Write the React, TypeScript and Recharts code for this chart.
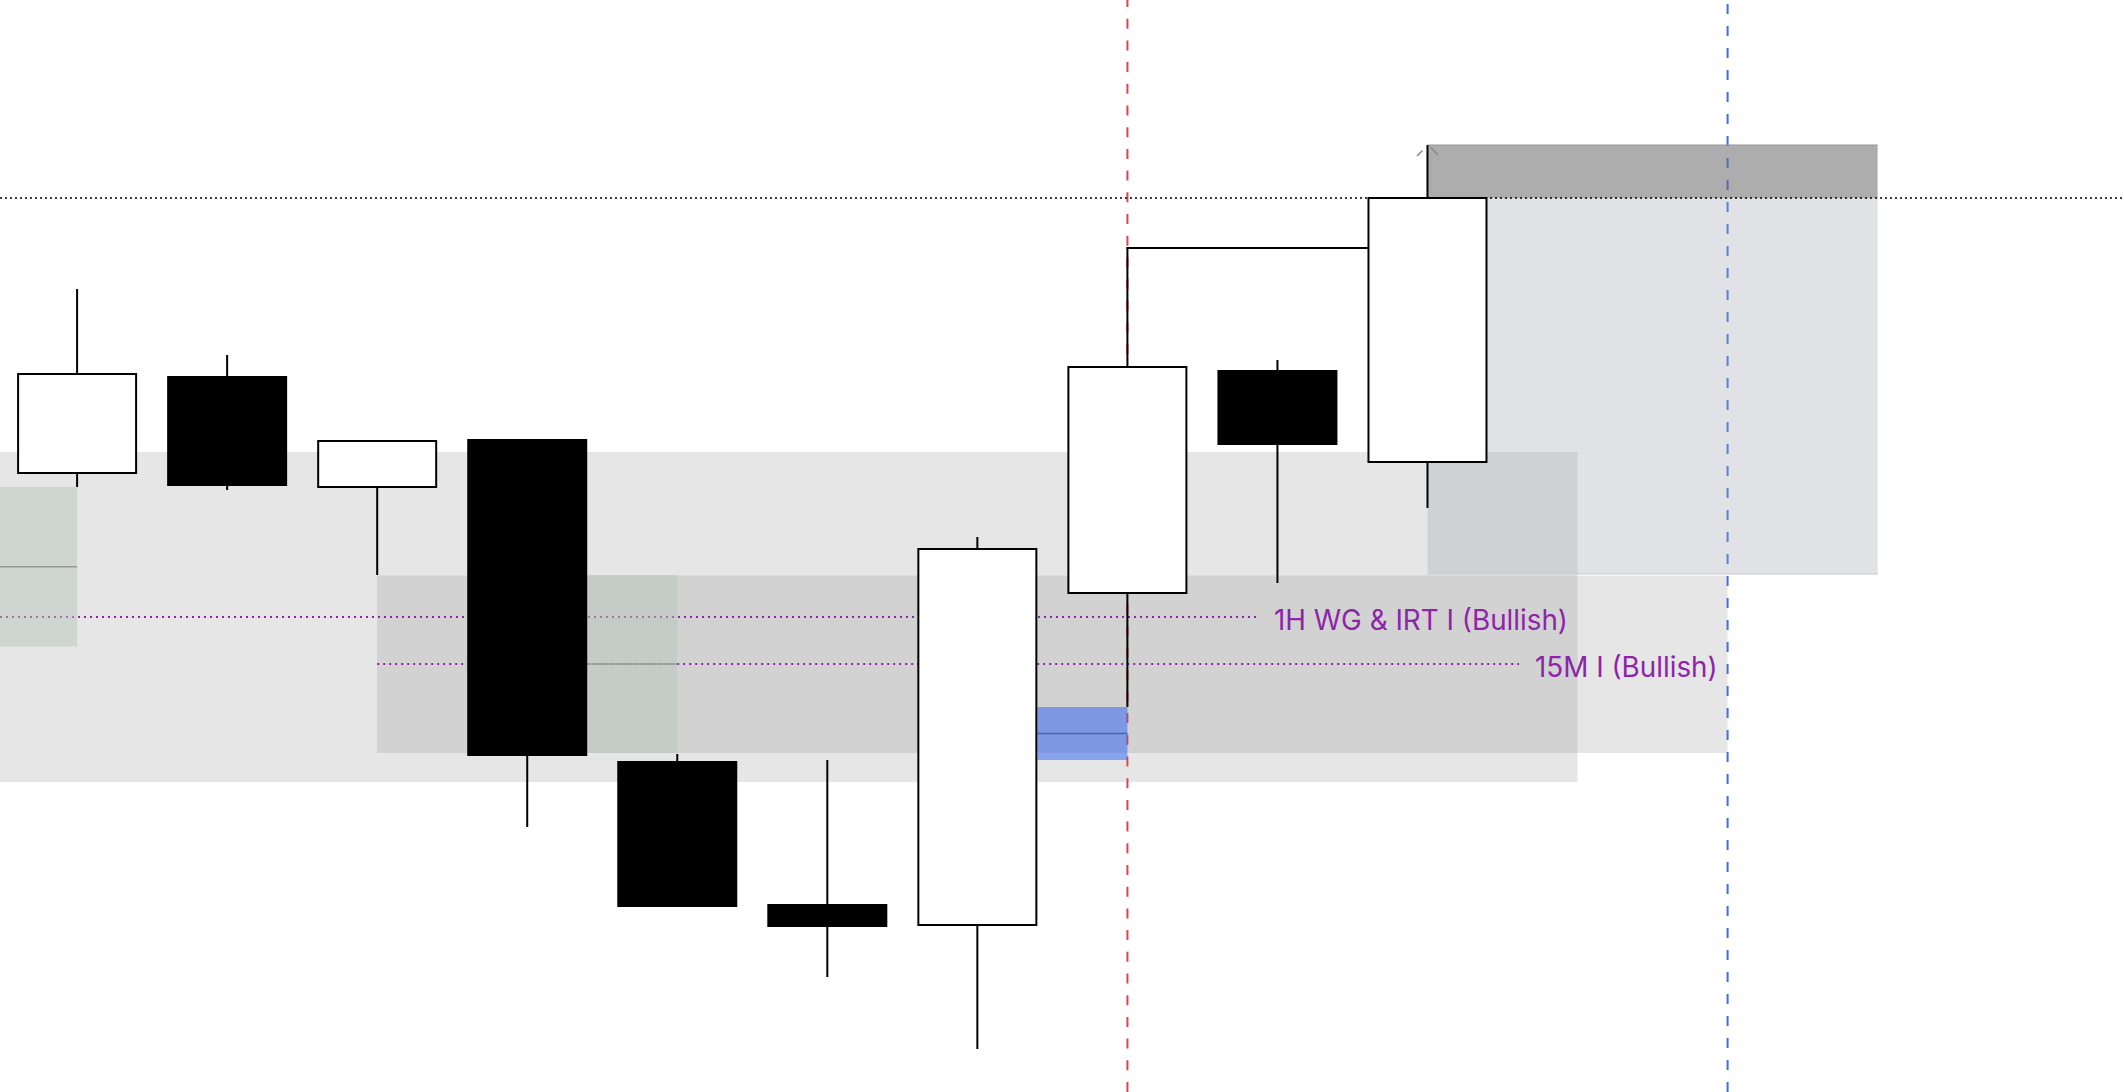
import React from 'react';
import {
  ComposedChart,
  Bar,
  XAxis,
  YAxis,
  ReferenceArea,
  ReferenceLine,
  ReferenceDot,
} from 'recharts';

// candle index -> OHLC
const bars = [0, 1, 2, 3, 4, 5, 6, 7, 8, 9];
const opens = [2352.7, 2362.3, 2351.3, 2356.0, 2323.8, 2309.5, 2307.5, 2340.7, 2362.9, 2353.8];
const highs = [2371.1, 2364.5, 2355.9, 2356.0, 2324.6, 2324.0, 2346.3, 2363.3, 2364.0, 2385.5];
const lows = [2351.3, 2351.0, 2342.5, 2317.3, 2309.4, 2302.3, 2295.1, 2329.3, 2341.7, 2349.2];
const closes = [2362.6, 2351.5, 2355.9, 2324.5, 2309.4, 2307.4, 2345.1, 2363.3, 2355.6, 2380.2];

const X_MIN = -0.514;
const X_MAX = 13.642;
const PRICE_MIN = 2290.8;
const PRICE_MAX = 2400;

// zones: [x1, x2, top, bottom]
const rangeZone = [X_MIN, 10, 2354.8, 2321.8];
const innerZone = [2, 11, 2342.45, 2324.7];
const premiumZone = [9, 12, 2380.2, 2342.6];
const wickZone = [9, 12, 2385.5, 2380.2];
const fvgLeft = [X_MIN, 0, 2351.3, 2335.35];
const fvgMid = [3.4, 4, 2342.5, 2324.7];
const blueGap = [6.4, 7, 2329.3, 2324.0];

// levels
const highLevel = 2380.2;
const wgLevel = { price: 2338.3, from: X_MIN, to: 7.87, label: '1H WG & IRT I (Bullish)' };
const m15Level = { price: 2333.6, from: 2, to: 9.61, label: '15M I (Bullish)' };
const stepPath = [
  { i: 7, p: 2363.3 },
  { i: 7, p: 2375.2 },
  { i: 8.6, p: 2375.2 },
];
const redTime = 7;
const blueTime = 11;

const data = bars.map((i, k) => ({
  i,
  open: opens[k],
  high: highs[k],
  low: lows[k],
  close: closes[k],
}));

const BODY_W = 118;
const PURPLE = '#8e24aa';

const Candle = (props: any) => {
  const { x, y, width, height, payload } = props;
  const { open, close, high, low } = payload;
  const cx = x + width / 2;
  const k = height / (high - low);
  const py = (v: number) => y + (high - v) * k;
  const top = py(Math.max(open, close));
  const bottom = py(Math.min(open, close));
  const up = close >= open;
  return (
    <g>
      <line x1={cx} x2={cx} y1={y} y2={y + height} stroke="#000" strokeWidth={2} />
      <rect
        x={cx - BODY_W / 2}
        y={top}
        width={BODY_W}
        height={Math.max(1, bottom - top)}
        fill={up ? '#fff' : '#000'}
        stroke="#000"
        strokeWidth={2}
      />
    </g>
  );
};

const levelLabel = (text: string) => (p: any) => {
  const vb = p.viewBox || {};
  return (
    <text
      x={vb.x + vb.width + 16}
      y={vb.y + 12.5}
      fill={PURPLE}
      fontSize={27.8}
      fontFamily="Inter, 'Noto Sans', sans-serif"
    >
      {text}
    </text>
  );
};

const Caret = (p: any) => (
  <g stroke="#8a8a8a" strokeWidth={1.6} strokeLinecap="round">
    <line x1={p.cx - 10} y1={p.cy + 10.5} x2={p.cx - 5.5} y2={p.cy + 6} />
    <line x1={p.cx + 3.5} y1={p.cy + 3} x2={p.cx + 10} y2={p.cy + 9.5} />
  </g>
);

const zone = (z: number[], fill: string, opacity: number, zIndex: number) => (
  <ReferenceArea
    x1={z[0]}
    x2={z[1]}
    y1={z[3]}
    y2={z[2]}
    fill={fill}
    fillOpacity={opacity}
    stroke="none"
    ifOverflow="visible"
    zIndex={zIndex}
  />
);

export default function App() {
  return (
    <div style={{ position: 'absolute', left: 0, top: 0, background: '#fff', lineHeight: 0 }}>
      <ComposedChart
        width={2124}
        height={1092}
        data={data}
        margin={{ top: 0, right: 0, bottom: 0, left: 0 }}
      >
        <XAxis dataKey="i" type="number" domain={[X_MIN, X_MAX]} allowDataOverflow hide />
        <YAxis type="number" domain={[PRICE_MIN, PRICE_MAX]} allowDataOverflow hide />

        <ReferenceLine x={redTime} stroke="#e3414d" strokeWidth={2} strokeDasharray="10 11.7" zIndex={10} />
        <ReferenceLine x={blueTime} stroke="#3b6cf0" strokeWidth={2} strokeDasharray="10 12" zIndex={10} />

        {zone(rangeZone, 'rgb(130,130,130)', 0.2, 20)}
        {zone(innerZone, 'rgb(130,130,130)', 0.2, 21)}
        {zone(premiumZone, 'rgb(160,164,175)', 0.32, 22)}
        {zone(wickZone, 'rgb(110,110,110)', 0.566, 23)}
        <ReferenceLine
          segment={[{ x: wickZone[0], y: wickZone[2] }, { x: wickZone[1], y: wickZone[2] }]}
          stroke="#959595"
          strokeWidth={1.2}
          zIndex={24}
        />
        <ReferenceLine
          segment={[{ x: premiumZone[0], y: premiumZone[3] }, { x: premiumZone[1], y: premiumZone[3] }]}
          stroke="#c9cacd"
          strokeWidth={1.2}
          zIndex={24}
        />

        <ReferenceLine
          segment={[{ x: wgLevel.from, y: wgLevel.price }, { x: wgLevel.to, y: wgLevel.price }]}
          stroke={PURPLE}
          strokeWidth={2}
          strokeDasharray="2 4"
          label={levelLabel(wgLevel.label)}
          ifOverflow="visible"
          zIndex={30}
        />
        <ReferenceLine
          segment={[{ x: m15Level.from, y: m15Level.price }, { x: m15Level.to, y: m15Level.price }]}
          stroke={PURPLE}
          strokeWidth={2}
          strokeDasharray="2 4"
          label={levelLabel(m15Level.label)}
          zIndex={30}
        />

        {zone(fvgLeft, 'rgb(184,196,186)', 0.5, 40)}
        {zone(fvgMid, 'rgb(184,196,186)', 0.5, 40)}
        <ReferenceLine
          segment={[{ x: fvgLeft[0], y: (fvgLeft[2] + fvgLeft[3]) / 2 }, { x: fvgLeft[1], y: (fvgLeft[2] + fvgLeft[3]) / 2 }]}
          stroke="#969b97"
          strokeWidth={1.5}
          ifOverflow="visible"
          zIndex={45}
        />
        <ReferenceLine
          segment={[{ x: fvgMid[0], y: (fvgMid[2] + fvgMid[3]) / 2 }, { x: fvgMid[1], y: (fvgMid[2] + fvgMid[3]) / 2 }]}
          stroke="#969b97"
          strokeWidth={1.5}
          zIndex={45}
        />

        {zone(blueGap, 'rgb(44,94,244)', 0.5, 50)}
        <ReferenceLine
          segment={[{ x: blueGap[0], y: (blueGap[2] + blueGap[3]) / 2 }, { x: blueGap[1], y: (blueGap[2] + blueGap[3]) / 2 }]}
          stroke="#4a62b0"
          strokeWidth={1.7}
          zIndex={55}
        />

        <ReferenceLine
          y={highLevel}
          stroke="#000"
          strokeWidth={1.6}
          strokeDasharray="2 3"
          zIndex={60}
        />

        <ReferenceLine
          segment={[{ x: stepPath[0].i, y: stepPath[0].p }, { x: stepPath[1].i, y: stepPath[1].p }]}
          stroke="#000"
          strokeWidth={2}
          strokeLinecap="square"
          zIndex={70}
        />
        <ReferenceLine
          segment={[{ x: stepPath[1].i, y: stepPath[1].p }, { x: stepPath[2].i, y: stepPath[2].p }]}
          stroke="#000"
          strokeWidth={2}
          strokeLinecap="square"
          zIndex={70}
        />

        <Bar
          dataKey={(d: any) => [d.low, d.high]}
          barSize={120}
          shape={Candle}
          isAnimationActive={false}
          zIndex={300}
        />

        <ReferenceDot x={wickZone[0]} y={wickZone[2]} r={0} shape={Caret} zIndex={400} />
      </ComposedChart>
    </div>
  );
}
